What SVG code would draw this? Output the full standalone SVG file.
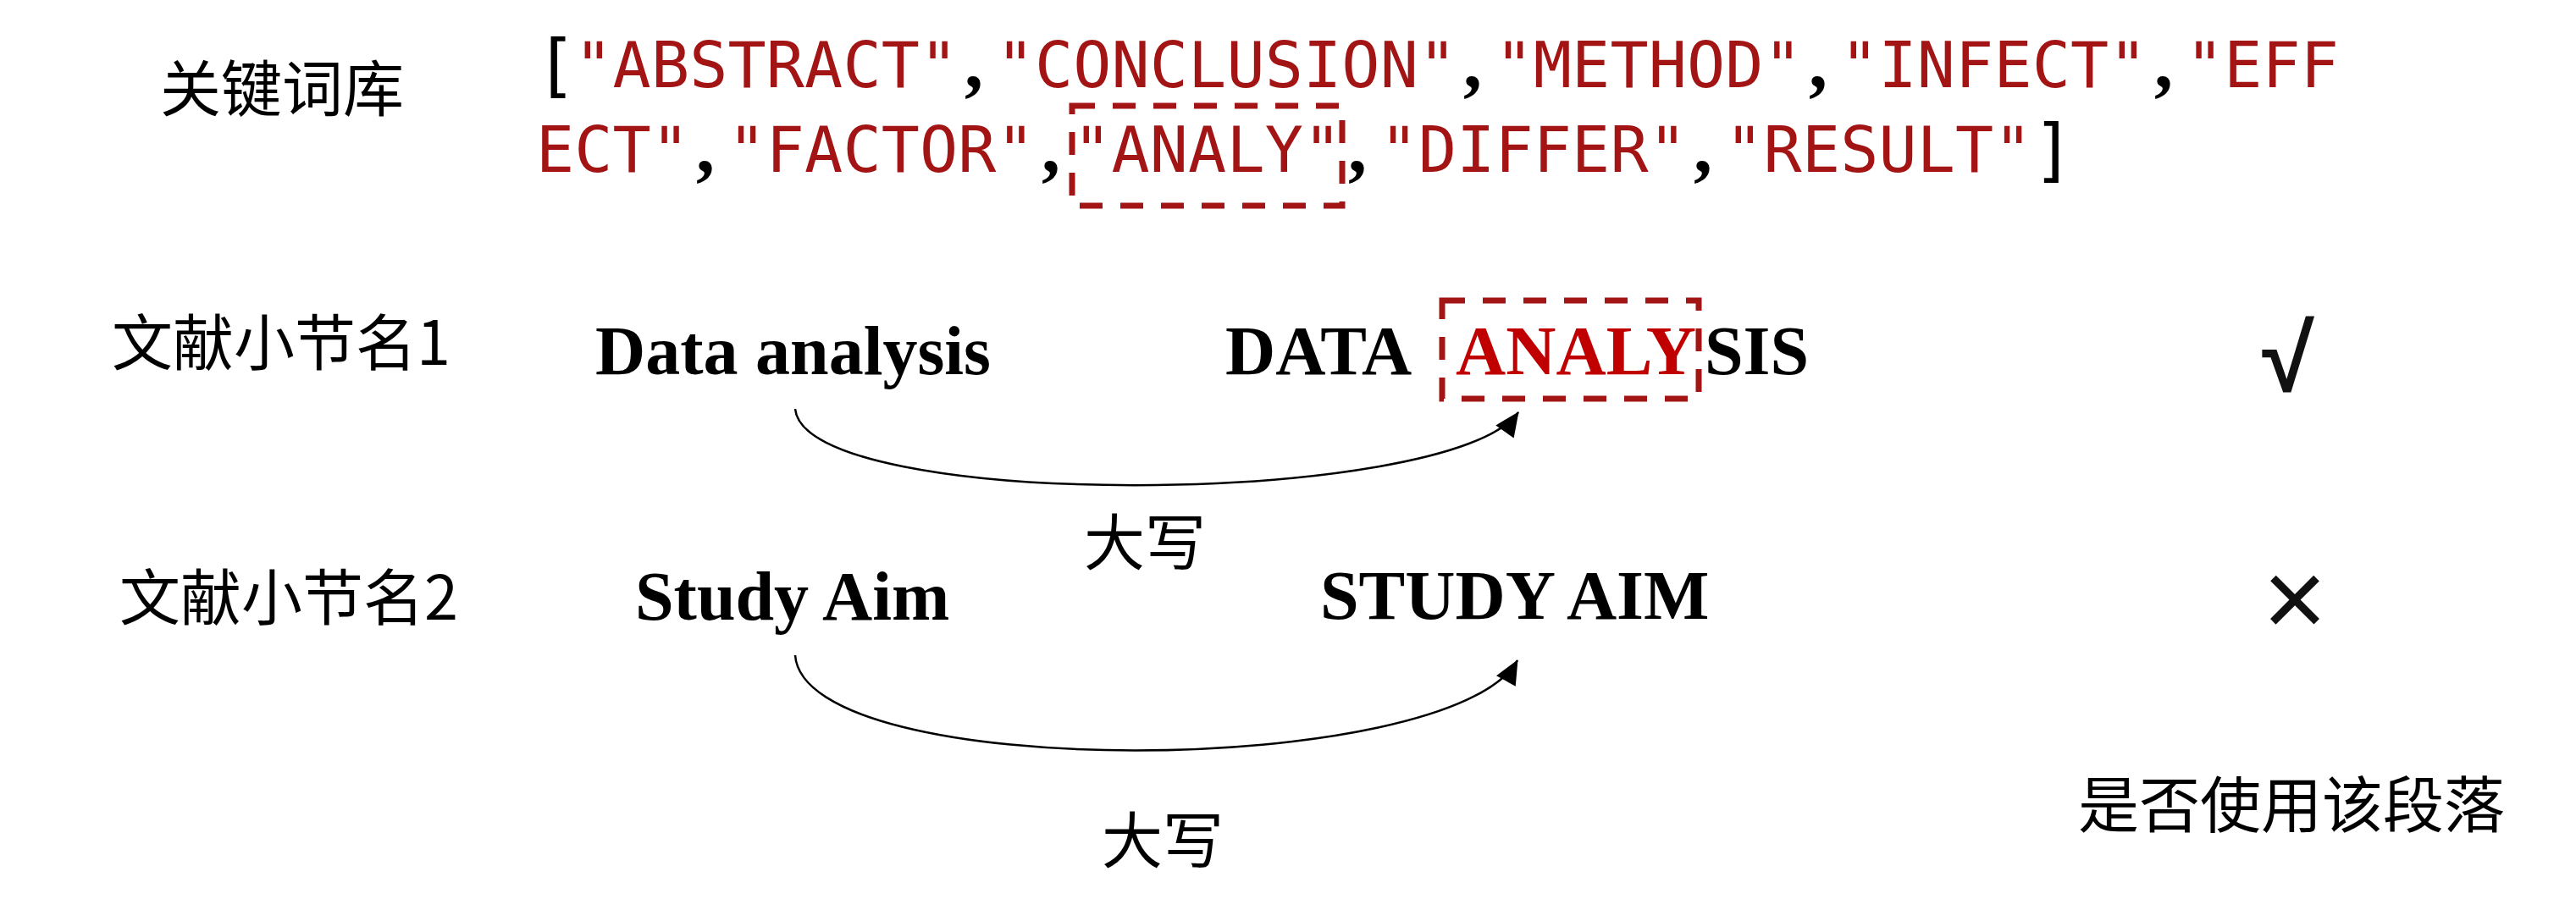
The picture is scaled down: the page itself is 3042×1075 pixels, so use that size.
<svg xmlns="http://www.w3.org/2000/svg" width="3042" height="1075" viewBox="0 0 3042 1075">
<style>
.cjk{font-family:"Noto Sans CJK SC","Noto Sans CJK TC",sans-serif;font-size:72px;fill:#000}
.code{font-family:"DejaVu Sans Mono",monospace;font-size:75px;letter-spacing:0.15px}
.str{fill:#A31515}
.punc{fill:#000;font-size:82px}
.comma{font-family:"Liberation Serif",serif;font-weight:bold;font-size:88px;fill:#000;letter-spacing:0}
.en{font-family:"Liberation Serif",serif;font-weight:bold;font-size:82px;fill:#000}
.hl{fill:#C00000}
.dash{fill:none;stroke:#A31515;stroke-width:7;stroke-dasharray:27 21}
.conn{fill:none;stroke:#000;stroke-width:2.5;marker-end:url(#arrow)}
.mark{font-family:"Liberation Sans",sans-serif;fill:#111}
</style>
<defs>
<marker id="arrow" markerUnits="userSpaceOnUse" markerWidth="34" markerHeight="34" viewBox="-31 -17 34 34" refX="0" refY="0" orient="auto">
<path d="M1,0 L-28,-13 L-28,13 Z" fill="#000"/>
</marker>
</defs>
<rect width="3042" height="1075" fill="#fff"/>

<g id="keyword-label"><text class="cjk" x="189" y="131">关键词库</text></g>

<g id="keyword-list">
<text class="code" y="105"><tspan class="punc" x="632">[</tspan><tspan class="str" x="678.3" y="103">"ABSTRACT"</tspan><tspan class="comma" x="1139">,</tspan><tspan class="str" x="1176.6">"CONCLUSION"</tspan><tspan class="comma" x="1728">,</tspan><tspan class="str" x="1765.5">"METHOD"</tspan><tspan class="comma" x="2136">,</tspan><tspan class="str" x="2173.2">"INFECT"</tspan><tspan class="comma" x="2544">,</tspan><tspan class="str" x="2580.9">"EFF</tspan></text>
<text class="code" y="203"><tspan class="str" x="633">ECT"</tspan><tspan class="comma" x="822">,</tspan><tspan class="str" x="859.5">"FACTOR"</tspan><tspan class="comma" x="1230">,</tspan><tspan class="str" x="1267.2">"ANALY"</tspan><tspan class="comma" x="1592">,</tspan><tspan class="str" x="1629.6">"DIFFER"</tspan><tspan class="comma" x="2000">,</tspan><tspan class="str" x="2037.3">"RESULT"</tspan><tspan class="punc" x="2400" y="205">]</tspan></text>
<rect class="dash" x="1266" y="125" width="319" height="118"/>
</g>

<g id="section1-label"><text class="cjk" x="132" y="431">文献小节名1</text></g>
<g id="section1-original"><text class="en" x="703" y="442">Data analysis</text></g>
<g id="section1-upper">
<text class="en" y="442"><tspan x="1447">DATA</tspan><tspan class="hl" x="1719">ANALY</tspan><tspan x="2013">SIS</tspan></text>
<rect class="dash" x="1703" y="355" width="303" height="116"/>
</g>
<g id="section1-result"><text class="mark" x="2702" y="462" text-anchor="middle" font-size="112" font-weight="bold">√</text></g>

<g id="section2-label"><text class="cjk" x="141" y="732">文献小节名2</text></g>
<g id="section2-original"><text class="en" x="750" y="732">Study Aim</text></g>
<g id="section2-upper"><text class="en" x="1559" y="731">STUDY AIM</text></g>
<g id="section2-result"><text class="mark" x="2710" y="752" text-anchor="middle" font-size="130">×</text></g>

<g id="result-label"><text class="cjk" x="2454" y="977" font-size="73">是否使用该段落</text></g>

<g id="connectors">
<path class="conn" d="M939,483 C950,605 1714,600 1793,487"/>
<path class="conn" d="M939,774 C950,926 1714,920 1792,780"/>
<text class="cjk" x="1280" y="667">大写</text>
<text class="cjk" x="1301" y="1019">大写</text>
</g>
</svg>
